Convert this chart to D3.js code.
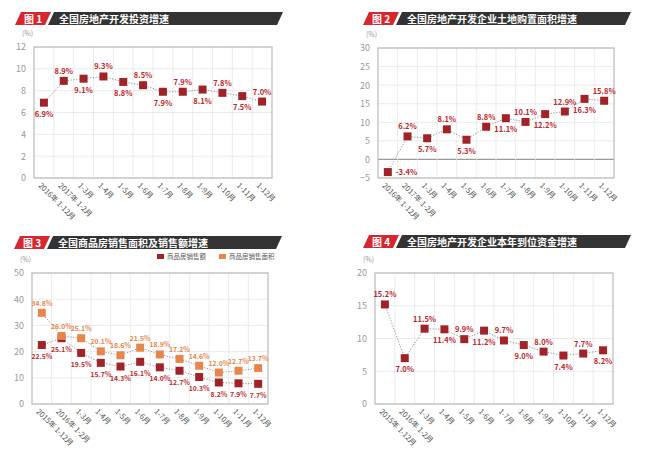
<!DOCTYPE html>
<html><head><meta charset="utf-8">
<script src="https://d3js.org/d3.v7.min.js"></script>
<style>body{margin:0;background:#fff}text{font-family:"Noto Sans CJK SC","Noto Sans",sans-serif}</style>
</head><body><svg id="c" width="652" height="459"></svg>
<script>
const cats1 = ["2016年 1-12月","2017年 1-2月","1-3月","1-4月","1-5月","1-6月","1-7月","1-8月","1-9月","1-10月","1-11月","1-12月"];
const cats3 = ["2015年 1-12月","2016年 1-2月","1-3月","1-4月","1-5月","1-6月","1-7月","1-8月","1-9月","1-10月","1-11月","1-12月"];
const invest = [6.9,8.9,9.1,9.3,8.8,8.5,7.9,7.9,8.1,7.8,7.5,7.0];
const land = [-3.4,6.2,5.7,8.1,5.3,8.8,11.1,10.1,12.2,12.9,16.3,15.8];
const salesAmount = [22.5,25.1,19.5,15.7,14.3,16.1,14.0,12.7,10.3,8.2,7.9,7.7];
const salesArea = [34.8,26.0,25.1,20.1,18.6,21.5,18.9,17.2,14.6,12.0,12.7,13.7];
const funds = [15.2,7.0,11.5,11.4,9.9,11.2,9.7,9.0,8.0,7.4,7.7,8.2];
const titles = ["全国房地产开发投资增速","全国房地产开发企业土地购置面积增速","全国商品房销售面积及销售额增速","全国房地产开发企业本年到位资金增速"];
const legendNames = ["商品房销售额","商品房销售面积"];

const svg = d3.select("#c");
const RED="#a0232a", ORANGE="#e8854a";

function panel(o){
  const g = svg.append("g");
  const ty=o.ty, tx=o.tx;
  g.append("path").attr("d",`M${tx+6},${ty} L${tx+36},${ty} L${tx+30},${ty+13} L${tx},${ty+13}Z`).attr("fill","#d7262e");
  g.append("text").attr("x",tx+9).attr("y",ty+10.5).attr("fill","#fff").attr("font-size",10).attr("font-weight","bold").text("图 "+o.n);
  g.append("path").attr("d",`M${tx+39},${ty} L${tx+268},${ty} L${tx+262},${ty+13} L${tx+33},${ty+13}Z`).attr("fill","#333");
  g.append("text").attr("x",tx+44).attr("y",ty+10.5).attr("fill","#fff").attr("font-size",10).attr("font-weight","bold").text(o.title);

  const x = d3.scaleBand().domain(o.cats).range([o.x0,o.x1]);
  const y = d3.scaleLinear().domain(o.dom).range([o.y1,o.y0]);
  const ticks = d3.range(o.dom[0],o.dom[1]+0.001,o.step);
  g.selectAll(".hg").data(ticks).join("line").attr("x1",o.x0).attr("x2",o.x1).attr("y1",d=>y(d)).attr("y2",d=>y(d))
    .attr("stroke",d=>d===0&&o.dom[0]<0?"#999":"#e6e6e6").attr("stroke-width",d=>d===0&&o.dom[0]<0?1.2:0.8);
  g.selectAll(".vg").data(o.cats.slice(1)).join("line").attr("x1",d=>x(d)).attr("x2",d=>x(d)).attr("y1",o.y0).attr("y2",o.y1).attr("stroke","#e6e6e6").attr("stroke-width",0.8);
  g.append("rect").attr("x",o.x0).attr("y",o.y0).attr("width",o.x1-o.x0).attr("height",o.y1-o.y0).attr("fill","none").attr("stroke","#bbb").attr("stroke-width",1.2);
  const ya = g.append("g").attr("transform",`translate(${o.x0},0)`).call(d3.axisLeft(y).tickValues(ticks).tickSize(0).tickPadding(8));
  ya.select(".domain").remove();
  ya.selectAll("text").attr("fill","#999").attr("font-size",9).attr("font-family","Noto Sans");
  g.append("text").attr("x",o.x0-12).attr("y",o.y0-11).attr("fill","#999").attr("font-size",7).text("(%)");
  const xa = g.append("g").attr("transform",`translate(0,${o.y1})`).call(d3.axisBottom(x).tickSize(0).tickPadding(0));
  xa.select(".domain").remove();
  xa.selectAll("text").attr("fill","#555").attr("font-size",7.5).attr("text-anchor","start")
    .attr("transform","translate(-6,8) rotate(45)").attr("dy","0");
  const cx = d=>x(d)+x.bandwidth()/2;
  o.series.forEach(s=>{
    const pts = s.vals.map((v,i)=>[cx(o.cats[i]),y(v),v,i]);
    g.append("path").attr("d",d3.line()(pts.map(p=>[p[0],p[1]]))).attr("fill","none").attr("stroke","#888").attr("stroke-width",0.9).attr("stroke-dasharray","1.2,1.6");
    g.selectAll(null).data(pts).join("rect").attr("x",p=>p[0]-4).attr("y",p=>p[1]-4).attr("width",8).attr("height",8).attr("fill",s.color);
    g.selectAll(null).data(pts).join("text").attr("font-size",o.fs||7.5).attr("font-weight","bold").attr("fill",s.lcolor)
      .attr("text-anchor",p=>(s.firstRight&&p[3]===0)?"start":"middle")
      .attr("x",p=>(s.firstRight&&p[3]===0)?p[0]+8:p[0])
      .attr("y",p=>{ if(s.firstRight&&p[3]===0) return p[1]+3;
        const up = s.mode==="up"?true:s.mode==="down"?false:((p[3]+s.start)%2===0);
        return up? p[1]-7 : p[1]+14;})
      .text(p=>p[2].toFixed(1)+"%");
  });
  if(o.legend){
    o.series.forEach((s,i)=>{
      const lx = o.legend[0]+i*62;
      g.append("rect").attr("x",lx).attr("y",o.legend[1]-5).attr("width",7).attr("height",5).attr("fill",s.color);
      g.append("text").attr("x",lx+10).attr("y",o.legend[1]).attr("font-size",6.5).attr("fill","#555").text(legendNames[i]);
    });
  }
}
panel({n:1,title:titles[0],tx:15,ty:12,cats:cats1,x0:34,x1:272,y0:47,y1:178,dom:[0,12],step:2,
  series:[{vals:invest,color:RED,lcolor:"#c0272d",start:1}]});
panel({n:2,title:titles[1],tx:363,ty:12,cats:cats1,x0:378,x1:614,y0:48,y1:178,dom:[-5,30],step:5,
  series:[{vals:land,color:RED,lcolor:"#c0272d",start:1,firstRight:true}]});
panel({n:3,title:titles[2],tx:14,ty:236,cats:cats3,x0:32,x1:268,y0:273,y1:404,dom:[0,50],step:10,legend:[157,259],fs:6.8,
  series:[{vals:salesAmount,color:RED,lcolor:"#c0272d",mode:"down"},{vals:salesArea,color:ORANGE,lcolor:ORANGE,mode:"up"}]});
panel({n:4,title:titles[3],tx:363,ty:235,cats:cats3,x0:375,x1:613,y0:273,y1:404,dom:[0,20],step:5,
  series:[{vals:funds,color:RED,lcolor:"#c0272d",start:0}]});
</script></body></html>
